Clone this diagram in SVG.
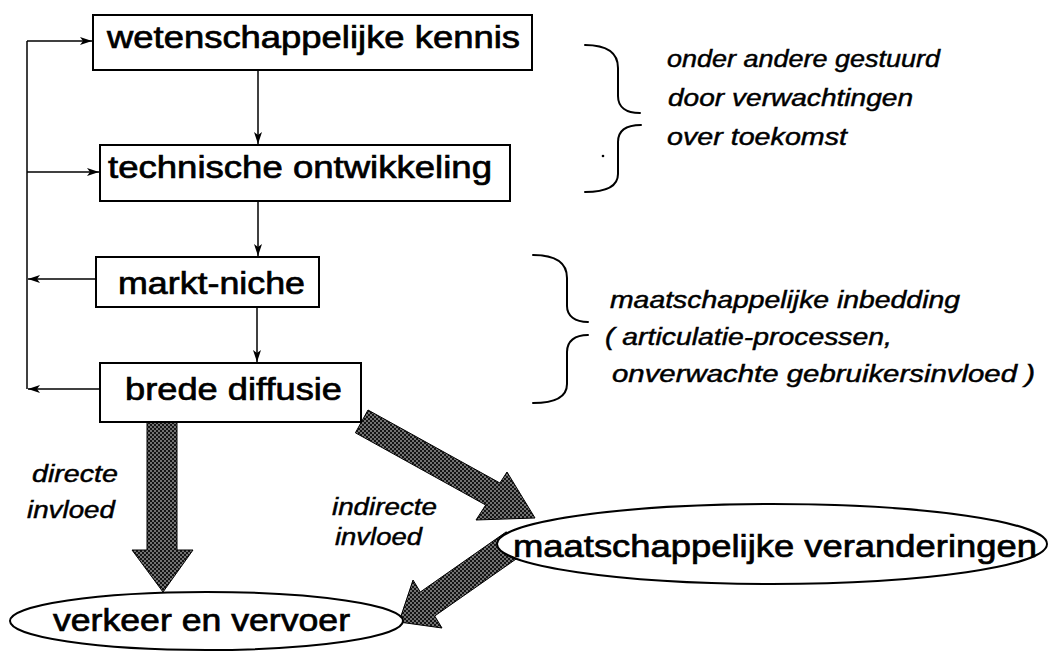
<svg xmlns="http://www.w3.org/2000/svg" width="1050" height="653" viewBox="0 0 1050 653">
  <defs>
    <!-- halftone screen used for the broad influence arrows -->
    <pattern id="screen" patternUnits="userSpaceOnUse" width="4" height="4">
      <rect width="4" height="4" fill="#141414"/>
      <circle cx="1" cy="1" r="0.75" fill="#ffffff"/>
      <circle cx="3" cy="3" r="0.75" fill="#ffffff"/>
    </pattern>
    <marker id="head" markerUnits="userSpaceOnUse" markerWidth="14" markerHeight="10" refX="12" refY="4" orient="auto">
      <path d="M0,0 L12,4 L0,8 L3,4 Z" fill="#000"/>
    </marker>
  </defs>
  <style>
    .box { fill: #fff; stroke: #000; stroke-width: 2; }
    .oval { fill: #fff; stroke: #000; stroke-width: 2; }
    .lbl { font-family: "Liberation Sans", Arial, sans-serif; font-size: 31px; fill: #000; stroke: #000; stroke-width: 0.7; }
    .note { font-family: "Liberation Sans", Arial, sans-serif; font-size: 23px; font-style: italic; fill: #000; stroke: #000; stroke-width: 0.45; }
    .link { fill: none; stroke: #000; stroke-width: 1.5; }
    .brace { fill: none; stroke: #000; stroke-width: 2; stroke-linecap: round; }
    .broad { fill: url(#screen); stroke: #000; stroke-width: 1; stroke-linejoin: miter; }
  </style>

  <rect width="1050" height="653" fill="#fff"/>

  <!-- connectors: feedback loop, chain arrows and broad influence arrows -->
  <g id="connectors">
    <path class="link" d="M27,41 L27,389"/>
    <path class="link" d="M27,41 L92,41" marker-end="url(#head)"/>
    <path class="link" d="M27,172 L99,172" marker-end="url(#head)"/>
    <path class="link" d="M96,279 L28,279" marker-end="url(#head)"/>
    <path class="link" d="M100,389 L28,389" marker-end="url(#head)"/>
    <path class="link" d="M258,70 L258,144" marker-end="url(#head)"/>
    <path class="link" d="M258,201 L258,256" marker-end="url(#head)"/>
    <path class="link" d="M257,307 L257,362" marker-end="url(#head)"/>

    <polygon class="broad" points="147,422 177,422 177,550 193,550 163,592 132,550 147,550"/>
    <polygon class="broad" points="368,410 499.9,483 507,472 535,518 476,520 485.7,505 355.4,432.8"/>
    <polygon class="broad" points="506.3,531.8 420.3,592 413,580 399,622 442,628 434.7,616 520.7,555.8"/>
  </g>

  <g id="node-kennis">
    <rect class="box" x="93" y="15" width="439" height="55"/>
    <text class="lbl" x="107" y="48" textLength="413" lengthAdjust="spacingAndGlyphs">wetenschappelijke kennis</text>
  </g>

  <g id="node-ontwikkeling">
    <rect class="box" x="100" y="145" width="410" height="56"/>
    <text class="lbl" x="108" y="178" textLength="384" lengthAdjust="spacingAndGlyphs">technische ontwikkeling</text>
  </g>

  <g id="node-niche">
    <rect class="box" x="96" y="257" width="223" height="50"/>
    <text class="lbl" x="118" y="294" textLength="187" lengthAdjust="spacingAndGlyphs">markt-niche</text>
  </g>

  <g id="node-diffusie">
    <rect class="box" x="100" y="363" width="261" height="59"/>
    <text class="lbl" x="125" y="400" textLength="217" lengthAdjust="spacingAndGlyphs">brede diffusie</text>
  </g>

  <g id="node-veranderingen">
    <ellipse class="oval" cx="772" cy="544" rx="275" ry="40"/>
    <text class="lbl" x="513" y="557" textLength="524" lengthAdjust="spacingAndGlyphs">maatschappelijke veranderingen</text>
  </g>

  <g id="node-verkeer">
    <ellipse class="oval" cx="206.5" cy="621" rx="196.5" ry="29"/>
    <text class="lbl" x="53" y="631" textLength="297" lengthAdjust="spacingAndGlyphs">verkeer en vervoer</text>
  </g>

  <!-- annotation braces and notes -->
  <g id="note-verwachtingen">
    <path class="brace" d="M585,45 C606,45 618,52 618,68 L618,96 C618,107 626,113 640,113"/>
    <path class="brace" d="M641,125 C627,125 618,130 618,142 L618,174 C618,186 606,192 585,192"/>
    <circle cx="603" cy="156" r="1.3" fill="#000"/>
    <text class="note" x="667" y="67" textLength="273" lengthAdjust="spacingAndGlyphs">onder andere gestuurd</text>
    <text class="note" x="668" y="106" textLength="245" lengthAdjust="spacingAndGlyphs">door verwachtingen</text>
    <text class="note" x="667" y="145" textLength="180" lengthAdjust="spacingAndGlyphs">over toekomst</text>
  </g>

  <g id="note-inbedding">
    <path class="brace" d="M533,255 C555,255 567,262 567,278 L567,306 C567,316 575,322 588,322"/>
    <path class="brace" d="M588,335 C575,335 567,341 567,352 L567,384 C567,397 555,403 533,403"/>
    <text class="note" x="610" y="308" textLength="350" lengthAdjust="spacingAndGlyphs">maatschappelijke inbedding</text>
    <text class="note" x="605" y="345" textLength="287" lengthAdjust="spacingAndGlyphs">( articulatie-processen,</text>
    <text class="note" x="612" y="382" textLength="423" lengthAdjust="spacingAndGlyphs">onverwachte gebruikersinvloed )</text>
  </g>

  <g id="label-direct">
    <text class="note" x="32" y="482" textLength="86" lengthAdjust="spacingAndGlyphs">directe</text>
    <text class="note" x="27" y="518" textLength="88" lengthAdjust="spacingAndGlyphs">invloed</text>
  </g>

  <g id="label-indirect">
    <text class="note" x="332" y="515" textLength="105" lengthAdjust="spacingAndGlyphs">indirecte</text>
    <text class="note" x="335" y="545" textLength="87" lengthAdjust="spacingAndGlyphs">invloed</text>
  </g>
</svg>
